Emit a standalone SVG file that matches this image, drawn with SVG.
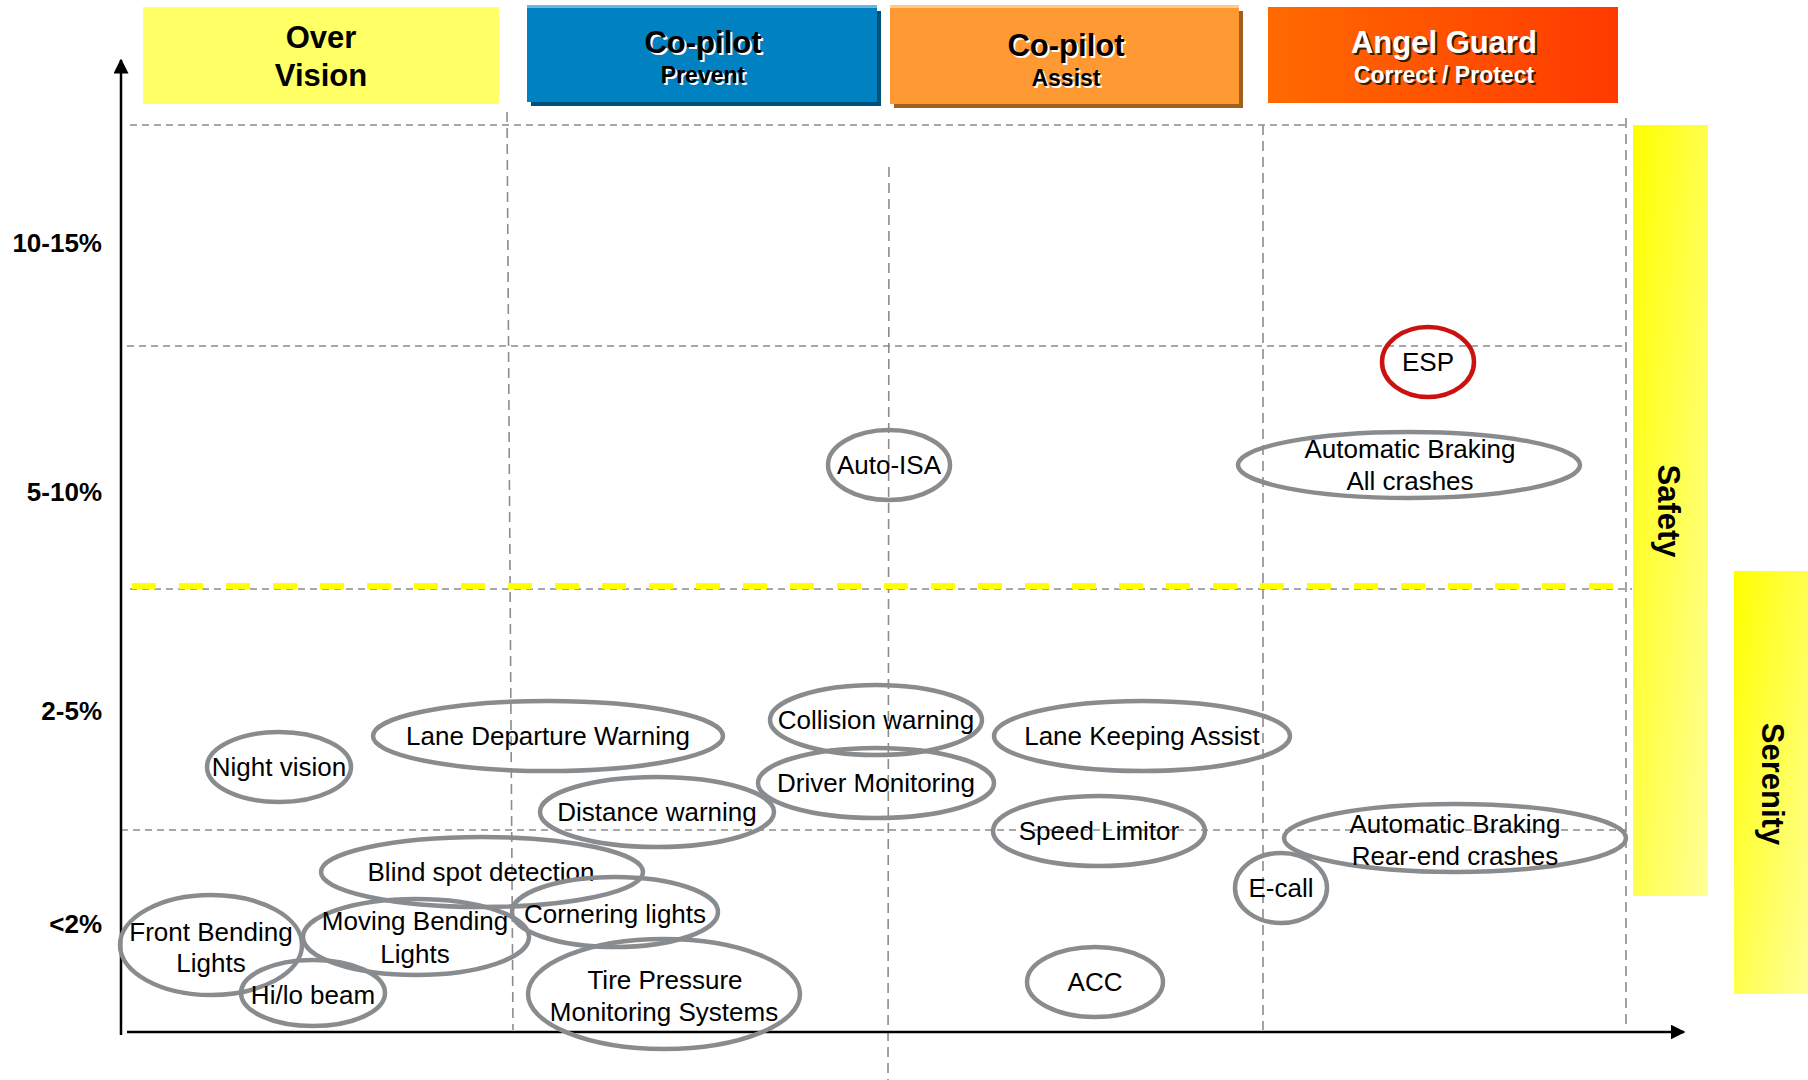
<svg xmlns="http://www.w3.org/2000/svg" width="1808" height="1080" viewBox="0 0 1808 1080">
  <defs>
    <linearGradient id="gradGuard" x1="0" y1="0" x2="1" y2="0">
      <stop offset="0" stop-color="#FF6A00"/>
      <stop offset="1" stop-color="#FF3A00"/>
    </linearGradient>
    <linearGradient id="gradBand" x1="0" y1="0" x2="1" y2="1">
      <stop offset="0" stop-color="#FFFF00"/>
      <stop offset="1" stop-color="#FFFF99"/>
    </linearGradient>
    <marker id="arrow" viewBox="0 0 10 10" refX="9" refY="5" markerWidth="6" markerHeight="6" orient="auto" markerUnits="strokeWidth">
      <path d="M0,0 L10,5 L0,10 Z" fill="#000"/>
    </marker>
    <style>
      .grid { stroke: #8C8C8C; stroke-width: 1.6; stroke-dasharray: 7 5; fill: none; }
      .vgrid { stroke: #8C8C8C; stroke-width: 1.6; stroke-dasharray: 10 6; fill: none; }
      .axis { stroke: #000; stroke-width: 2.5; fill: none; }
      .bubble { fill: none; stroke: #898C8F; stroke-width: 4.5; }
      .bubble-red { fill: none; stroke: #CC1111; stroke-width: 4.5; }
      .lbl { font-family: "Liberation Sans", Arial, sans-serif; font-size: 26px; fill: #000; text-anchor: middle; }
      .ylbl { font-family: "Liberation Sans", Arial, sans-serif; font-size: 26px; font-weight: bold; fill: #000; text-anchor: end; }
      .hd { font-family: "Liberation Sans", Arial, sans-serif; font-weight: bold; text-anchor: middle; }
      .big { font-size: 31px; }
      .small { font-size: 23px; }
      .band { font-family: "Liberation Sans", Arial, sans-serif; font-size: 31px; font-weight: bold; fill: #000; text-anchor: middle; }
    </style>
  </defs>

  <rect width="1808" height="1080" fill="#FFFFFF"/>

  <!-- side bands -->
  <g id="band-safety">
    <rect x="1633" y="125" width="75" height="771" fill="url(#gradBand)"/>
    <text class="band" x="1669" y="522" transform="rotate(90 1669 511)">Safety</text>
  </g>
  <g id="band-serenity">
    <rect x="1734" y="571" width="74" height="423" fill="url(#gradBand)"/>
    <text class="band" x="1773" y="795" transform="rotate(90 1773 784)">Serenity</text>
  </g>

  <!-- grid -->
  <g id="grid">
    <line class="grid" x1="130" y1="125" x2="1626" y2="125"/>
    <line class="grid" x1="127" y1="346" x2="1626" y2="346"/>
    <line class="grid" x1="130" y1="589" x2="1632" y2="589"/>
    <line class="grid" x1="121" y1="830" x2="1626" y2="830"/>
    <line class="vgrid" x1="507" y1="112" x2="513" y2="1030"/>
    <line class="vgrid" x1="889" y1="167" x2="888" y2="1080"/>
    <line class="vgrid" x1="1263" y1="125" x2="1263" y2="1030"/>
    <line class="vgrid" x1="1626" y1="118" x2="1626" y2="1030"/>
    <line x1="132" y1="586" x2="1632" y2="586" stroke="#FFFF00" stroke-width="6" stroke-dasharray="24 23"/>
  </g>

  <!-- header boxes -->
  <g id="head-overvision">
    <rect x="143" y="7" width="356" height="97" fill="#FFFF66"/>
    <text class="hd big" x="321" y="48" fill="#000">Over</text>
    <text class="hd big" x="321" y="86" fill="#000">Vision</text>
  </g>
  <g id="head-prevent">
    <rect x="531" y="11" width="350" height="95" fill="#00507C"/>
    <rect x="527" y="7" width="350" height="95" fill="#0081C1"/>
    <rect x="527" y="5" width="350" height="3" fill="#6BB7E0"/>
    <g class="hd" fill="#FFFFFF">
      <text class="big" x="705" y="55">Co-pilot</text>
      <text class="small" x="705" y="85">Prevent</text>
    </g>
    <g class="hd" fill="#000">
      <text class="big" x="703" y="53">Co-pilot</text>
      <text class="small" x="703" y="83">Prevent</text>
    </g>
  </g>
  <g id="head-assist">
    <rect x="894" y="11" width="349" height="97" fill="#A35E1C"/>
    <rect x="890" y="7" width="349" height="97" fill="#FF9933"/>
    <rect x="890" y="5" width="349" height="3" fill="#FFC98C"/>
    <g class="hd" fill="#FFFFFF">
      <text class="big" x="1068" y="58">Co-pilot</text>
      <text class="small" x="1068" y="88">Assist</text>
    </g>
    <g class="hd" fill="#000">
      <text class="big" x="1066" y="56">Co-pilot</text>
      <text class="small" x="1066" y="86">Assist</text>
    </g>
  </g>
  <g id="head-guard">
    <rect x="1268" y="7" width="350" height="96" fill="url(#gradGuard)"/>
    <g class="hd" fill="#3A1A00">
      <text class="big" x="1446" y="55">Angel Guard</text>
      <text class="small" x="1446" y="85">Correct / Protect</text>
    </g>
    <g class="hd" fill="#FFFFFF">
      <text class="big" x="1444" y="53">Angel Guard</text>
      <text class="small" x="1444" y="83">Correct / Protect</text>
    </g>
  </g>

  <!-- axes -->
  <g id="axes">
    <line class="axis" x1="121" y1="1035" x2="121" y2="60" marker-end="url(#arrow)"/>
    <line class="axis" x1="127" y1="1032" x2="1684" y2="1032" marker-end="url(#arrow)"/>
  </g>

  <!-- axis labels -->
  <g id="y-labels">
    <text class="ylbl" x="102" y="252">10-15%</text>
    <text class="ylbl" x="102" y="501">5-10%</text>
    <text class="ylbl" x="102" y="720">2-5%</text>
    <text class="ylbl" x="102" y="933">&lt;2%</text>
  </g>

  <!-- function bubbles -->
  <g id="node-esp">
    <ellipse class="bubble-red" cx="1428" cy="362" rx="46" ry="35"/>
    <text class="lbl" x="1428" y="371">ESP</text>
  </g>
  <g id="node-auto-isa">
    <ellipse class="bubble" cx="889" cy="465" rx="61" ry="35"/>
    <text class="lbl" x="889" y="474">Auto-ISA</text>
  </g>
  <g id="node-braking-all">
    <ellipse class="bubble" cx="1409" cy="465" rx="171" ry="33"/>
    <text class="lbl" x="1410" y="458">Automatic Braking</text>
    <text class="lbl" x="1410" y="490">All crashes</text>
  </g>
  <g id="node-night-vision">
    <ellipse class="bubble" cx="279" cy="767" rx="72" ry="35"/>
    <text class="lbl" x="279" y="776">Night vision</text>
  </g>
  <g id="node-ldw">
    <ellipse class="bubble" cx="548" cy="736" rx="175" ry="35"/>
    <text class="lbl" x="548" y="745">Lane Departure Warning</text>
  </g>
  <g id="node-collision">
    <ellipse class="bubble" cx="876" cy="720" rx="106" ry="35"/>
    <text class="lbl" x="876" y="729">Collision warning</text>
  </g>
  <g id="node-driver-mon">
    <ellipse class="bubble" cx="876" cy="783" rx="118" ry="35"/>
    <text class="lbl" x="876" y="792">Driver Monitoring</text>
  </g>
  <g id="node-lka">
    <ellipse class="bubble" cx="1142" cy="736" rx="148" ry="35"/>
    <text class="lbl" x="1142" y="745">Lane Keeping Assist</text>
  </g>
  <g id="node-distance">
    <ellipse class="bubble" cx="657" cy="812" rx="117" ry="35"/>
    <text class="lbl" x="657" y="821">Distance warning</text>
  </g>
  <g id="node-speed-limitor">
    <ellipse class="bubble" cx="1099" cy="831" rx="106" ry="35"/>
    <text class="lbl" x="1099" y="840">Speed Limitor</text>
  </g>
  <g id="node-braking-rear">
    <ellipse class="bubble" cx="1455" cy="838" rx="171" ry="34"/>
    <text class="lbl" x="1455" y="833">Automatic Braking</text>
    <text class="lbl" x="1455" y="865">Rear-end crashes</text>
  </g>
  <g id="node-ecall">
    <ellipse class="bubble" cx="1281" cy="888" rx="46" ry="35"/>
    <text class="lbl" x="1281" y="897">E-call</text>
  </g>
  <g id="node-blind-spot">
    <ellipse class="bubble" cx="482" cy="872" rx="161" ry="35"/>
    <text class="lbl" x="481" y="881">Blind spot detection</text>
  </g>
  <g id="node-cornering">
    <ellipse class="bubble" cx="615" cy="912" rx="103" ry="35"/>
    <text class="lbl" x="615" y="923">Cornering lights</text>
  </g>
  <g id="node-front-bending">
    <ellipse class="bubble" cx="211" cy="945" rx="91" ry="50"/>
    <text class="lbl" x="211" y="941">Front Bending</text>
    <text class="lbl" x="211" y="972">Lights</text>
  </g>
  <g id="node-moving-bending">
    <ellipse class="bubble" cx="416" cy="937" rx="113" ry="38"/>
    <text class="lbl" x="415" y="930">Moving Bending</text>
    <text class="lbl" x="415" y="963">Lights</text>
  </g>
  <g id="node-hilo">
    <ellipse class="bubble" cx="313" cy="993" rx="72" ry="33"/>
    <text class="lbl" x="313" y="1004">Hi/lo beam</text>
  </g>
  <g id="node-tpms">
    <ellipse class="bubble" cx="664" cy="994" rx="136" ry="55"/>
    <text class="lbl" x="665" y="989">Tire Pressure</text>
    <text class="lbl" x="664" y="1021">Monitoring Systems</text>
  </g>
  <g id="node-acc">
    <ellipse class="bubble" cx="1095" cy="982" rx="68" ry="35"/>
    <text class="lbl" x="1095" y="991">ACC</text>
  </g>
</svg>
